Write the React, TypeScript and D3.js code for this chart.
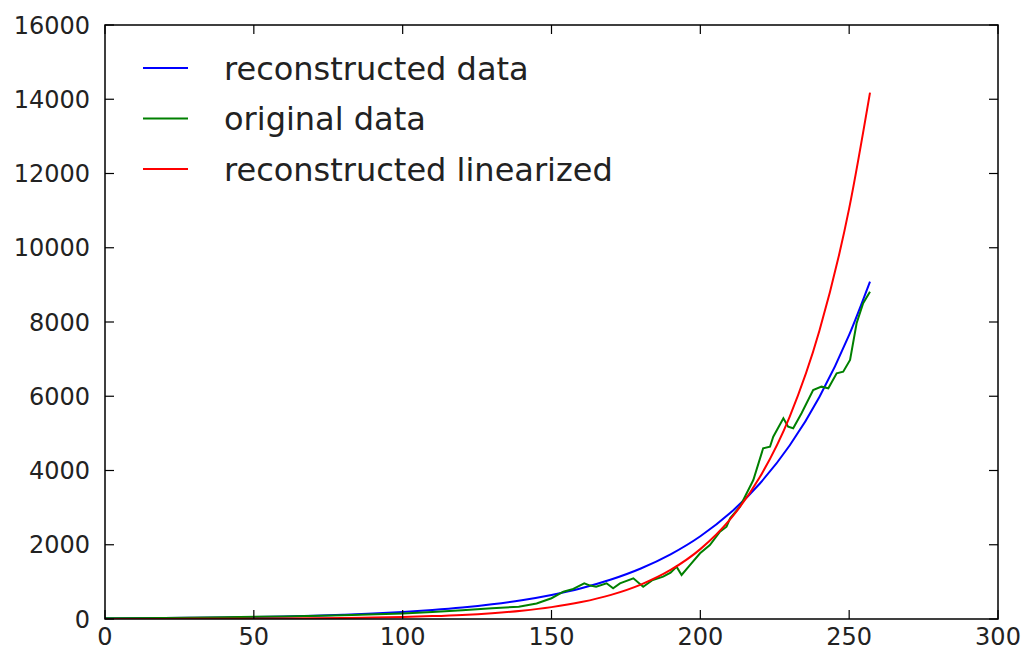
import React, { useEffect, useRef } from "react";
import * as d3 from "d3";

// x positions for the two smooth reconstructed curves
const curveX = [0, 10, 20, 30, 40, 50, 60, 70, 80, 90, 100, 110, 120, 130, 140, 150, 160, 170, 180, 190, 200, 210, 220, 230, 240, 250, 257];

// reconstructed data (blue)
const reconstructed = [16, 20.5, 26, 33.5, 43, 55, 70, 90, 115, 147, 189, 242, 309, 396, 507, 649, 830, 1063, 1360, 1741, 2228, 2852, 3650, 4672, 5980, 7654, 9090];

// reconstructed linearized (red)
const linearized = [1.6, 2.3, 3.2, 4.6, 6.5, 9.3, 13.2, 18.8, 26.8, 38.2, 54.4, 77.6, 110, 158, 225, 320, 456, 650, 927, 1321, 1882, 2682, 3822, 5447, 7762, 11060, 14180];

// original data (green)
const originalX = [0, 20, 40, 60, 80, 100, 110, 120, 130, 139, 145, 150, 154, 157, 161, 163, 165, 168.5, 170.7, 173, 177.5, 180.8, 184, 187.5, 190, 192, 193.7, 196.5, 199.9, 203.2, 206.6, 208.8, 210, 213.3, 217.8, 221.1, 223.4, 224.5, 227.9, 229.5, 231.2, 234, 237.9, 240.7, 243, 245.8, 248, 250.3, 252.5, 254.7, 257];
const originalY = [20, 30, 45, 70, 100, 150, 190, 235, 290, 331, 420, 560, 735, 800, 961, 900, 870, 961, 826, 960, 1096, 870, 1050, 1140, 1250, 1409, 1185, 1454, 1769, 1993, 2352, 2487, 2712, 3025, 3744, 4598, 4641, 4911, 5406, 5180, 5137, 5541, 6168, 6258, 6213, 6617, 6662, 6976, 7965, 8504, 8816];

const xTicks = [0, 50, 100, 150, 200, 250, 300];
const yTicks = [0, 2000, 4000, 6000, 8000, 10000, 12000, 14000, 16000];

const legendLabels = ["reconstructed data", "original data", "reconstructed linearized"];
const legendColors = ["#0000ff", "#008000", "#ff0000"];

const App = () => {
  const svgRef = useRef<SVGSVGElement>(null);

  useEffect(() => {
    const svg = d3.select(svgRef.current);
    svg.selectAll("*").remove();

    const margin = { top: 25, right: 27, bottom: 34, left: 105 };
    const width = 1025 - margin.left - margin.right;
    const height = 653 - margin.top - margin.bottom;
    const font = "DejaVu Sans, Bitstream Vera Sans, sans-serif";

    const g = svg.append("g").attr("transform", `translate(${margin.left},${margin.top})`);

    const x = d3.scaleLinear().domain([0, 300]).range([0, width]);
    const y = d3.scaleLinear().domain([0, 16000]).range([height, 0]);

    // lines, clipped to the axes box
    svg
      .append("defs")
      .append("clipPath")
      .attr("id", "plot-clip")
      .append("rect")
      .attr("width", width)
      .attr("height", height);

    const lines = g.append("g").attr("clip-path", "url(#plot-clip)");

    const smooth = d3
      .line<number>()
      .x((_, i) => x(curveX[i]))
      .y((d) => y(d))
      .curve(d3.curveMonotoneX);

    const jagged = d3
      .line<number>()
      .x((_, i) => x(originalX[i]))
      .y((d) => y(d));

    lines.append("path").attr("d", smooth(reconstructed)).attr("fill", "none").attr("stroke", legendColors[0]).attr("stroke-width", 2);
    lines.append("path").attr("d", jagged(originalY)).attr("fill", "none").attr("stroke", legendColors[1]).attr("stroke-width", 2);
    lines.append("path").attr("d", smooth(linearized)).attr("fill", "none").attr("stroke", legendColors[2]).attr("stroke-width", 2);

    // frame
    g.append("rect")
      .attr("width", width)
      .attr("height", height)
      .attr("fill", "none")
      .attr("stroke", "#000")
      .attr("stroke-width", 1.5);

    const tickLen = 9;

    // x ticks, inward on bottom and top
    xTicks.forEach((t) => {
      g.append("line").attr("x1", x(t)).attr("x2", x(t)).attr("y1", height).attr("y2", height - tickLen).attr("stroke", "#000").attr("stroke-width", 1.2);
      g.append("line").attr("x1", x(t)).attr("x2", x(t)).attr("y1", 0).attr("y2", tickLen).attr("stroke", "#000").attr("stroke-width", 1.2);
      g.append("text")
        .attr("x", x(t))
        .attr("y", height + 26)
        .attr("text-anchor", "middle")
        .style("font-family", font)
        .style("font-size", "24px")
        .attr("fill", "#222")
        .text(t);
    });

    // y ticks, inward on left and right
    yTicks.forEach((t) => {
      g.append("line").attr("x1", 0).attr("x2", tickLen).attr("y1", y(t)).attr("y2", y(t)).attr("stroke", "#000").attr("stroke-width", 1.2);
      g.append("line").attr("x1", width).attr("x2", width - tickLen).attr("y1", y(t)).attr("y2", y(t)).attr("stroke", "#000").attr("stroke-width", 1.2);
      g.append("text")
        .attr("x", -15)
        .attr("y", y(t))
        .attr("dy", "0.36em")
        .attr("text-anchor", "end")
        .style("font-family", font)
        .style("font-size", "24px")
        .attr("fill", "#222")
        .text(t);
    });

    // legend (no frame)
    const legend = svg.append("g");
    legendLabels.forEach((label, i) => {
      const ly = 68 + i * 50.5;
      legend.append("line").attr("x1", 143).attr("x2", 188).attr("y1", ly).attr("y2", ly).attr("stroke", legendColors[i]).attr("stroke-width", 2);
      legend
        .append("text")
        .attr("x", 224)
        .attr("y", ly)
        .attr("dy", "0.36em")
        .style("font-family", font)
        .style("font-size", "32px")
        .attr("fill", "#222")
        .text(label);
    });
  }, []);

  return (
    <div style={{ position: "fixed", left: 0, top: 0, background: "#fff" }}>
      <svg ref={svgRef} width={1025} height={653} />
    </div>
  );
};

export default App;
